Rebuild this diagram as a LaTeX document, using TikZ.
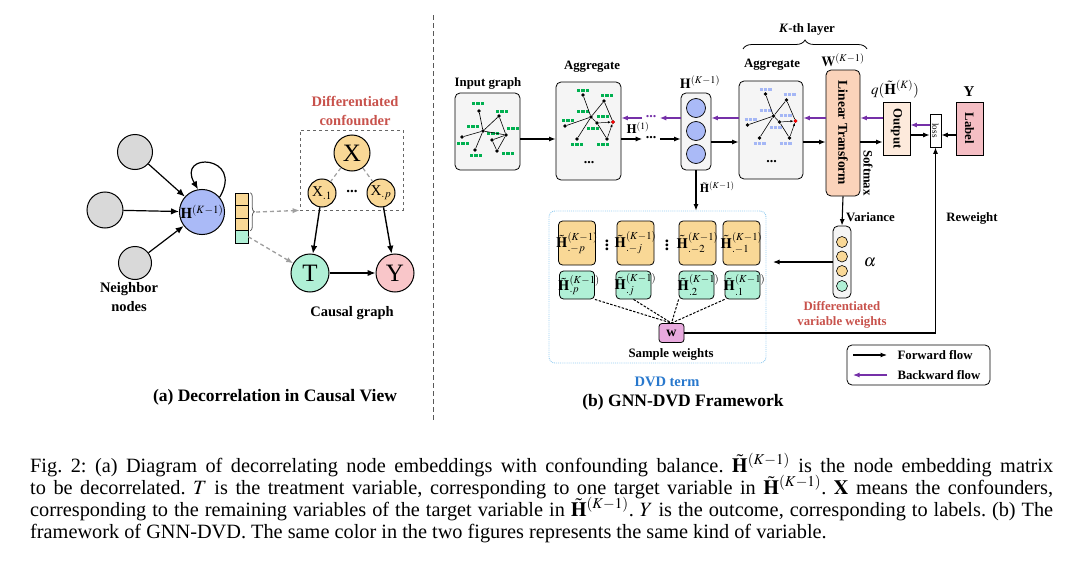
\documentclass[tikz,border=0pt]{standalone}
\usepackage{amsmath,amssymb}
\usepackage{mathptmx}
\usepackage{fontspec}
\setmainfont{Liberation Serif}
\usetikzlibrary{arrows.meta,decorations.pathreplacing}

\definecolor{nbgray}{RGB}{217,217,217}
\definecolor{hblue}{RGB}{170,186,247}
\definecolor{cyel}{RGB}{249,216,150}
\definecolor{cgreen}{RGB}{176,240,214}
\definecolor{cpink}{RGB}{249,198,201}
\definecolor{cred}{RGB}{200,82,76}
\definecolor{bpurple}{RGB}{117,48,168}
\definecolor{cpeach}{RGB}{251,211,186}
\definecolor{clight}{RGB}{253,234,220}
\definecolor{clabel}{RGB}{245,190,196}
\definecolor{cw}{RGB}{232,170,222}
\definecolor{boxgray}{RGB}{245,245,245}
\definecolor{fgreen}{RGB}{0,176,80}
\definecolor{fblue}{RGB}{165,183,245}
\definecolor{dvdline}{RGB}{150,205,240}
\definecolor{dvdtext}{RGB}{40,120,205}

\newcommand{\fsz}[2]{\fontsize{#1}{#2}\selectfont}
\frenchspacing

\begin{document}
\begin{tikzpicture}[x=1pt,y=-1pt,
	fwd/.style={-{Latex[length=6.5pt,width=5pt]},line width=1.1pt},
	bwd/.style={-{Latex[length=6.5pt,width=5pt]},line width=1.1pt,color=bpurple},
	carr/.style={-{Latex[length=8pt,width=6.5pt]},line width=1.4pt},
	garr/.style={-{Latex[length=7pt,width=5.5pt]},gray!75,line width=1.3pt,dash pattern=on 4pt off 3pt},
	gline/.style={gray!75,line width=1.2pt,dash pattern=on 4pt off 3pt},
	wdash/.style={line width=1pt,dash pattern=on 2.5pt off 1.5pt},
	sarr/.style={-{Latex[length=3pt,width=2.4pt]},line width=.5pt},
	circ/.style={circle,draw,line width=1pt,inner sep=0pt},
	gbox/.style={draw,rounded corners=5pt,fill=boxgray,line width=.8pt},
	gdot/.style={circle,fill=black,inner sep=0pt,minimum size=3.6pt},
	gbar/.style={line width=3pt,fgreen,dash pattern=on 3.3pt off 1.1pt},
	bbar/.style={line width=3pt,fblue,dash pattern=on 3.3pt off 1.1pt},
	cell/.style={draw,line width=.6pt,inner sep=0pt,minimum width=13pt,minimum height=12.5pt},
	ybox/.style={draw,rounded corners=4pt,fill=cyel,line width=.8pt,minimum width=37pt,minimum height=44pt},
	gnbox/.style={draw,rounded corners=4pt,fill=cgreen,line width=.8pt,minimum width=35pt,minimum height=28pt},
	dlab/.style={font=\fsz{14.5}{14.5},inner sep=0pt},
	lbl/.style={font=\bfseries\fsz{12.8}{15}},
	lbla/.style={font=\bfseries\fsz{14.5}{18.5}},
	ttl/.style={font=\bfseries\fsz{17.5}{17.5}},
	captext/.style={font=\fsz{20.3}{22},inner sep=0pt,anchor=base west}]
	\useasboundingbox (0,0) rectangle (1080,570);

	\node[circ,fill=nbgray,minimum size=35pt] (n1) at (135,152) {};
	\node[circ,fill=nbgray,minimum size=36pt] (n2) at (105,210) {};
	\node[circ,fill=nbgray,minimum size=33pt] (n3) at (135,263) {};
	\node[circ,fill=hblue,minimum size=40pt,font=\fsz{15}{15}] (h) at (202,212) {$\mathbf{H}^{(K-1)}$};
	\node[lbla,align=center] (tnb) at (129,297) {Neighbor\\nodes};
	\draw[carr,line width=1.2pt] (n1) -- (h);
	\draw[carr,line width=1.2pt] (n2) -- (h);
	\draw[carr,line width=1.2pt] (n3) -- (h);
	\draw[carr,line width=1.2pt] (h.40) .. controls +(25,-42) and +(-22,-38) .. (h.100);

	\foreach \i/\c in {1/cyel,2/cyel,3/cyel,4/cgreen}
		\node[cell,fill=\c] (v\i) at (241.5,186.75+12.5*\i) {};
	\draw[gray!70!black,line width=.8pt,decorate,decoration={brace,amplitude=4pt}] ([xshift=2pt]v1.north east) -- ([xshift=2pt]v3.south east);
	\coordinate (bt) at (256,212);

	\node[draw=gray!80!black,dashed,line width=.8pt,minimum width=103pt,minimum height=80pt] (cb) at (351.5,170) {};
	\node[lbla,text=cred,align=center] (tdc) at (355,111) {Differentiated\\confounder};
	\node[circ,fill=cyel,minimum size=36pt,font=\fsz{25}{25}] (x) at (352,153) {X};
	\node[circ,fill=cyel,minimum size=28pt,font=\fsz{15}{15}] (x1) at (322,193) {X$_{.1}$};
	\node[circ,fill=cyel,minimum size=28pt,font=\fsz{15}{15}] (xp) at (381,193) {X$_{.p}$};
	\node[font=\bfseries\fsz{15}{15}] (xd) at (352,191) {...};
	\draw[gline] (x) -- (x1);
	\draw[gline] (x) -- (xp);
	\node[circ,fill=cgreen,minimum size=38pt,font=\fsz{25}{25}] (t) at (310,273) {T};
	\node[circ,fill=cpink,minimum size=38pt,font=\fsz{25}{25}] (y) at (395,273) {Y};
	\draw[carr] (x1) -- (t);
	\draw[carr] (xp) -- (y);
	\draw[carr] (t) -- (y);
	\draw[garr] (bt) -- (cb.south west);
	\draw[garr] (v4.east) -- (t.150);
	\node[lbla] (tcg) at (352,313) {Causal graph};
	\node[ttl] (ta) at (275,397) {(a) Decorrelation in Causal View};

	\draw[gray!70!black,line width=.8pt,dash pattern=on 5pt off 3pt] (433,15) -- (433,420);

	\node[lbl] (tin) at (488,83) {Input graph};
	\node[gbox,minimum width=65pt,minimum height=77pt] (ing) at (487.5,131.5) {};
	\foreach \x/\y in {478/103,502/111,473/126,493/133,513/128,463/143,476/155,508/153}
		\draw[gbar] (\x-6,\y) -- (\x+6,\y);
	\foreach \n/\x/\y in {0/483/131,1/479/111,2/499/116,3/462/137,4/475/150,5/492/140,6/506/135,7/497/151}
		\node[gdot] (i\n) at (\x,\y) {};
	\foreach \u/\v in {0/1,0/2,0/3,0/4,0/6,2/6,5/6,5/7,6/7}
		\draw[line width=.6pt] (i\u) -- (i\v);

	\node[lbl] (tag1) at (592,67) {Aggregate};
	\node[gbox,minimum width=65pt,minimum height=98pt] (agg1) at (588.5,131) {};
	\node[lbl] (tag2) at (772,65) {Aggregate};
	\node[gbox,minimum width=64pt,minimum height=98pt] (agg2) at (771,130) {};
	\foreach \x/\y in {583/90,607/95,583/111,568/120,603/116,593/128,577/144,603/144}{
		\draw[gbar] (\x-6,\y) -- (\x+6,\y);
		\draw[bbar] (\x+176.5,\y-1) -- (\x+188.5,\y-1);
	}
	\foreach \n/\x/\y in {0/591/117,1/583/95,2/604/101,3/565/126,4/577/139,5/597/123,6/613/122,7/607/139}{
		\node[gdot] (a\n) at (\x,\y) {};
		\node[gdot] (b\n) at (\x+182.5,\y-1) {};
	}
	\node[gdot,fill=red] at (a6) {};
	\node[gdot,fill=red] at (b6) {};
	\foreach \u/\v in {0/1,0/2,0/3,0/4,0/5,2/6,5/7}{
		\draw[line width=.6pt] (a\u) -- (a\v);
		\draw[line width=.6pt] (b\u) -- (b\v);
	}
	\foreach \u in {5,7}{
		\draw[sarr] (a\u) -- (a6);
		\draw[sarr] (b\u) -- (b6);
	}
	\node[font=\bfseries\fsz{14}{14}] (ad1) at (589,163) {...};
	\node[font=\bfseries\fsz{14}{14}] (ad2) at (771.5,162) {...};

	\node[font=\fsz{14}{14}] (thc) at (700,82) {$\mathbf{H}^{(K-1)}$};
	\node[gbox,minimum width=30pt,minimum height=77pt] (hc) at (696,131.5) {};
	\foreach \i/\y in {1/108,2/131,3/154}
		\node[circ,fill=hblue,minimum size=19pt,line width=.7pt] (hc\i) at (696,\y) {};

	\node[draw,rounded corners=5pt,fill=cpeach,line width=.8pt,minimum width=34pt,minimum height=126pt] (lt) at (843,133) {};
	\node[lbl,rotate=-90,font=\bfseries\fsz{13.5}{14}] at (lt) {Linear Transform};
	\node[font=\fsz{14}{14}] (tw) at (843,60) {$\mathbf{W}^{(K-1)}$};
	\node[lbl,rotate=-90] (tsm) at (868,173) {Softmax};
	\node[draw,fill=clight,line width=.8pt,minimum width=27pt,minimum height=53pt] (outp) at (896.5,128.5) {};
	\node[lbl,rotate=-90] at (outp) {Output};
	\node[font=\fsz{15}{15}] (tq) at (895,89) {$q(\tilde{\mathbf{H}}^{(K)})$};
	\node[draw,fill=white,line width=.7pt,minimum width=11pt,minimum height=33pt] (loss) at (935.5,130.5) {};
	\node[rotate=-90,font=\fsz{9}{9},inner sep=0pt] at (loss) {loss};
	\node[draw,fill=clabel,line width=.8pt,minimum width=27pt,minimum height=53pt] (lab) at (969.5,128.5) {};
	\node[lbl,rotate=-90] at (lab) {Label};
	\node[font=\bfseries\fsz{15}{15}] (ty) at (969,92) {Y};

	\draw[line width=.8pt,decorate,decoration={brace,amplitude=9pt}] (743,49) -- (867,49);
	\node[lbl] (tk) at (807,29) {\textit{K}-th layer};

	\coordinate (fr) at (0,139);
	\coordinate (fr2) at (0,142);
	\coordinate (br) at (0,118);
	\coordinate (ol) at (0,135);
	\coordinate (lo) at (0,125);
	\node[font=\bfseries\fsz{14}{14}] (fd) at (651,138) {...};
	\node[font=\bfseries\fsz{14}{14},text=bpurple] (bd) at (651,117) {...};
	\node[font=\fsz{13}{13}] (th1) at (638,128) {$\mathbf{H}^{(1)}$};
	\draw[fwd] (ing.east |- fr) -- (agg1.west |- fr);
	\draw[fwd] (agg1.east |- fr) -- (fd.west |- fr);
	\draw[fwd] (fd.east |- fr) -- (hc.west |- fr);
	\draw[bwd] (hc.west |- br) -- (bd.east |- br);
	\draw[bwd] (bd.west |- br) -- (agg1.east |- br);
	\draw[fwd] (hc.east |- fr2) -- (agg2.west |- fr2);
	\draw[bwd] (agg2.west |- br) -- (hc.east |- br);
	\draw[fwd] (agg2.east |- fr2) -- (lt.west |- fr2);
	\draw[bwd] (lt.west |- br) -- (agg2.east |- br);
	\draw[fwd] (lt.east |- fr2) -- (outp.west |- fr2);
	\draw[bwd] (outp.west |- br) -- (lt.east |- br);
	\draw[fwd] (outp.east |- ol) -- (loss.west |- ol);
	\draw[bwd] (loss.west |- lo) -- (outp.east |- lo);
	\draw[fwd] (lab.west |- ol) -- (loss.east |- ol);

	\node[draw=dvdline,densely dotted,rounded corners=6pt,line width=.9pt,minimum width=217pt,minimum height=152pt] (dvd) at (657.5,287) {};
	\draw[fwd] (hc.south) -- (hc.south |- dvd.north) node[pos=.42,right,font=\fsz{12}{12}] {$\tilde{\mathbf{H}}^{(K-1)}$};

	\node[gbox,minimum width=18pt,minimum height=72pt] (al) at (842,262) {};
	\foreach \i/\y/\c in {1/242/cyel,2/256.5/cyel,3/271/cyel,4/286/cgreen}
		\node[circ,fill=\c,minimum size=11pt,line width=.6pt] (al\i) at (842,\y) {};
	\draw[fwd] (lt.south) -- (al.north) node[pos=.7,right,lbl] {Variance};
	\node[font=\fsz{17}{17}] (talpha) at (870,262) {$\alpha$};
	\node[lbl,text=cred,align=center] (tdv) at (842,314.5) {Differentiated\\variable weights};
	\coordinate (ain) at (773,262);
	\draw[fwd] (al.west) -- (ain);

	\foreach \i/\x/\idx in {1/577/{-}p,2/635.5/{-}j,3/697.5/{-}2,4/741.5/{-}1}
		\node[ybox,label={[dlab]center:$\tilde{\mathbf{H}}^{(K-1)}_{.\idx}$}] (y\i) at (\x,243) {};
	\foreach \i/\x/\idx in {1/577/p,2/633.5/j,3/696.5/2,4/742.5/1}
		\node[gnbox,label={[dlab,xshift=2pt]center:$\tilde{\mathbf{H}}^{(K-1)}_{.\idx}$}] (g\i) at (\x,285) {};
	\node[font=\bfseries\fsz{17}{17}] (vd1) at (607,242) {$\vdots$};
	\node[font=\bfseries\fsz{17}{17}] (vd2) at (667,242) {$\vdots$};
	\node[draw,fill=cw,rounded corners=3pt,line width=.8pt,minimum width=25pt,minimum height=19pt,font=\bfseries\fsz{14}{14}] (w) at (671.5,333) {w};
	\foreach \a in {g1.south east,g2.south,g3.south west,g4.south west}
		\draw[wdash] (\a) -- (w.north);
	\node[lbl] (tsw) at (671,354) {Sample weights};
	\node[font=\bfseries\fsz{14.5}{15},text=dvdtext] (tdvd) at (667,382) {DVD term};
	\node[ttl] (tb) at (683,402) {(b) GNN-DVD Framework};

	\node[lbl] (trw) at (972,218) {Reweight};
	\draw[fwd] (w.east) -| (loss.south);

	\node[draw,fill=white,rounded corners=5pt,line width=.8pt,minimum width=143pt,minimum height=40pt] (leg) at (918.5,365) {};
	\coordinate (lf1) at (853,355);
	\coordinate (lf2) at (887,355);
	\coordinate (lb1) at (887,375);
	\coordinate (lb2) at (853,375);
	\draw[fwd] (lf1) -- (lf2);
	\draw[bwd] (lb1) -- (lb2);
	\node[lbl,anchor=west] (tff) at (894,355) {Forward flow};
	\node[lbl,anchor=west] (tbf) at (894,375) {Backward flow};

	\node[captext] (c1) at (30,472) {\makebox[1023pt][s]{Fig. 2: (a) Diagram of decorrelating node embeddings with confounding balance. $\tilde{\mathbf{H}}^{(K-1)}$ is the node embedding matrix}};
	\node[captext] (c2) at (30,494) {\makebox[1023pt][s]{to be decorrelated. $T$ is the treatment variable, corresponding to one target variable in $\tilde{\mathbf{H}}^{(K-1)}$. $\mathbf{X}$ means the confounders,}};
	\node[captext] (c3) at (30,516) {\makebox[1023pt][s]{corresponding to the remaining variables of the target variable in $\tilde{\mathbf{H}}^{(K-1)}$. $Y$ is the outcome, corresponding to labels. (b) The}};
	\node[captext] (c4) at (30,538) {framework of GNN-DVD. The same color in the two figures represents the same kind of variable.};
\end{tikzpicture}
\end{document}
